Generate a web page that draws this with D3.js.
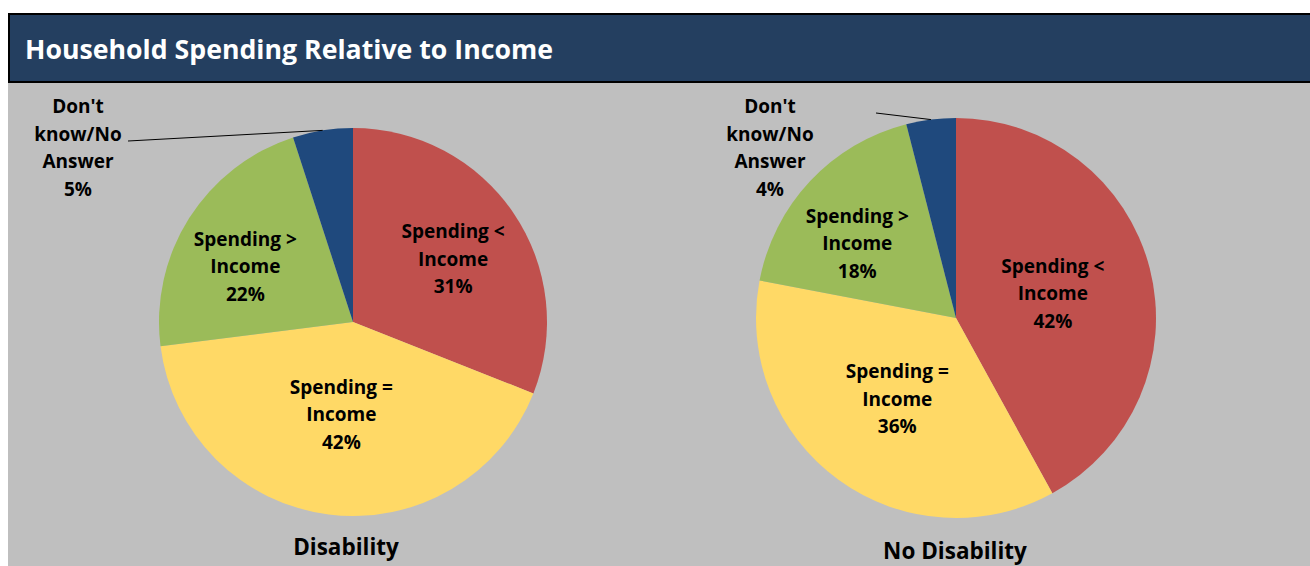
<!DOCTYPE html>
<html>
<head>
<meta charset="utf-8">
<script src="https://cdn.jsdelivr.net/npm/d3@7"></script>
<style>
  body { margin: 0; background: #fff; }
  svg { display: block; font-family: "Open Sans", sans-serif; }
</style>
</head>
<body>
<svg width="1310" height="566"></svg>
<script>
// data
const categories = ['Spending < Income', 'Spending = Income', 'Spending > Income', "Don't know/No Answer"];
const disability = [31, 42, 22, 5];
const noDisability = [42, 36, 18, 4];
const chartTitles = ['Disability', 'No Disability'];
const colors = ['#C0504D', '#FFD966', '#9BBB59', '#1F497D'];

const svg = d3.select('svg');

// background + title bar
svg.append('rect').attr('x', 8).attr('y', 82).attr('width', 1302).attr('height', 484).attr('fill', '#BFBFBF');
svg.append('rect').attr('x', 9).attr('y', 14).attr('width', 1302).attr('height', 68)
  .attr('fill', '#243F60').attr('stroke', '#000').attr('stroke-width', 2);
svg.append('text').attr('x', 25).attr('y', 59)
  .attr('fill', '#fff').attr('font-size', 26.7).attr('font-weight', 700)
  .text('Household Spending Relative to Income');

// label lines for each slice
const labelLines = [
  ['Spending <', 'Income'],
  ['Spending =', 'Income'],
  ['Spending >', 'Income'],
  ["Don't", 'know/No', 'Answer']
];

const charts = [
  { values: disability, cx: 353, cy: 322, r: 194, title: chartTitles[0], titleX: 346, titleY: 555,
    labelR: [0.61, 0.48, 0.625], labelShift: [2, 0, -5],
    dk: { x: 78, y: 113, lineFrom: [128, 141] } },
  { values: noDisability, cx: 956, cy: 318, r: 200, title: chartTitles[1], titleX: 955, titleY: 559,
    labelR: [0.5, 0.5, 0.62], labelShift: [0, 0, -6],
    dk: { x: 770, y: 113, lineFrom: [876, 113] } }
];

const pie = d3.pie().sort(null).value(d => d);
const lh = 27.5;
const fs = 19;

charts.forEach(c => {
  const g = svg.append('g').attr('transform', `translate(${c.cx},${c.cy})`);
  const arcs = pie(c.values);
  const arc = d3.arc().innerRadius(0).outerRadius(c.r);

  g.selectAll('path')
    .data(arcs)
    .enter()
    .append('path')
      .attr('d', arc)
      .attr('fill', (d, i) => colors[i]);

  // inside labels
  arcs.slice(0, 3).forEach((d, i) => {
    const lr = c.r * c.labelR[i];
    const a = (d.startAngle + d.endAngle) / 2 + c.labelShift[i] * Math.PI / 180;
    const pos = [lr * Math.sin(a), -lr * Math.cos(a)];
    const lines = labelLines[i].concat([d.value + '%']);
    const t = g.append('text')
      .attr('text-anchor', 'middle')
      .attr('font-size', fs).attr('font-weight', 700).attr('fill', '#000');
    lines.forEach((s, k) => {
      t.append('tspan')
        .attr('x', pos[0])
        .attr('y', pos[1] + (k - (lines.length - 1) / 2) * lh + 7)
        .text(s);
    });
  });

  // outside label for the small slice, with leader line
  const dkArc = arcs[3];
  const edge = d3.arc().innerRadius(c.r).outerRadius(c.r).centroid(dkArc);
  svg.append('line')
    .attr('x1', c.dk.lineFrom[0]).attr('y1', c.dk.lineFrom[1])
    .attr('x2', c.cx + edge[0]).attr('y2', c.cy + edge[1])
    .attr('stroke', '#000').attr('stroke-width', 1);
  const dkLines = labelLines[3].concat([dkArc.value + '%']);
  const t = svg.append('text')
    .attr('text-anchor', 'middle')
    .attr('font-size', fs).attr('font-weight', 700).attr('fill', '#000');
  dkLines.forEach((s, k) => {
    t.append('tspan').attr('x', c.dk.x).attr('y', c.dk.y + k * lh).text(s);
  });

  svg.append('text')
    .attr('x', c.titleX).attr('y', c.titleY)
    .attr('text-anchor', 'middle')
    .attr('font-size', 22.5).attr('font-weight', 700).attr('fill', '#000')
    .text(c.title);
});
</script>
</body>
</html>
